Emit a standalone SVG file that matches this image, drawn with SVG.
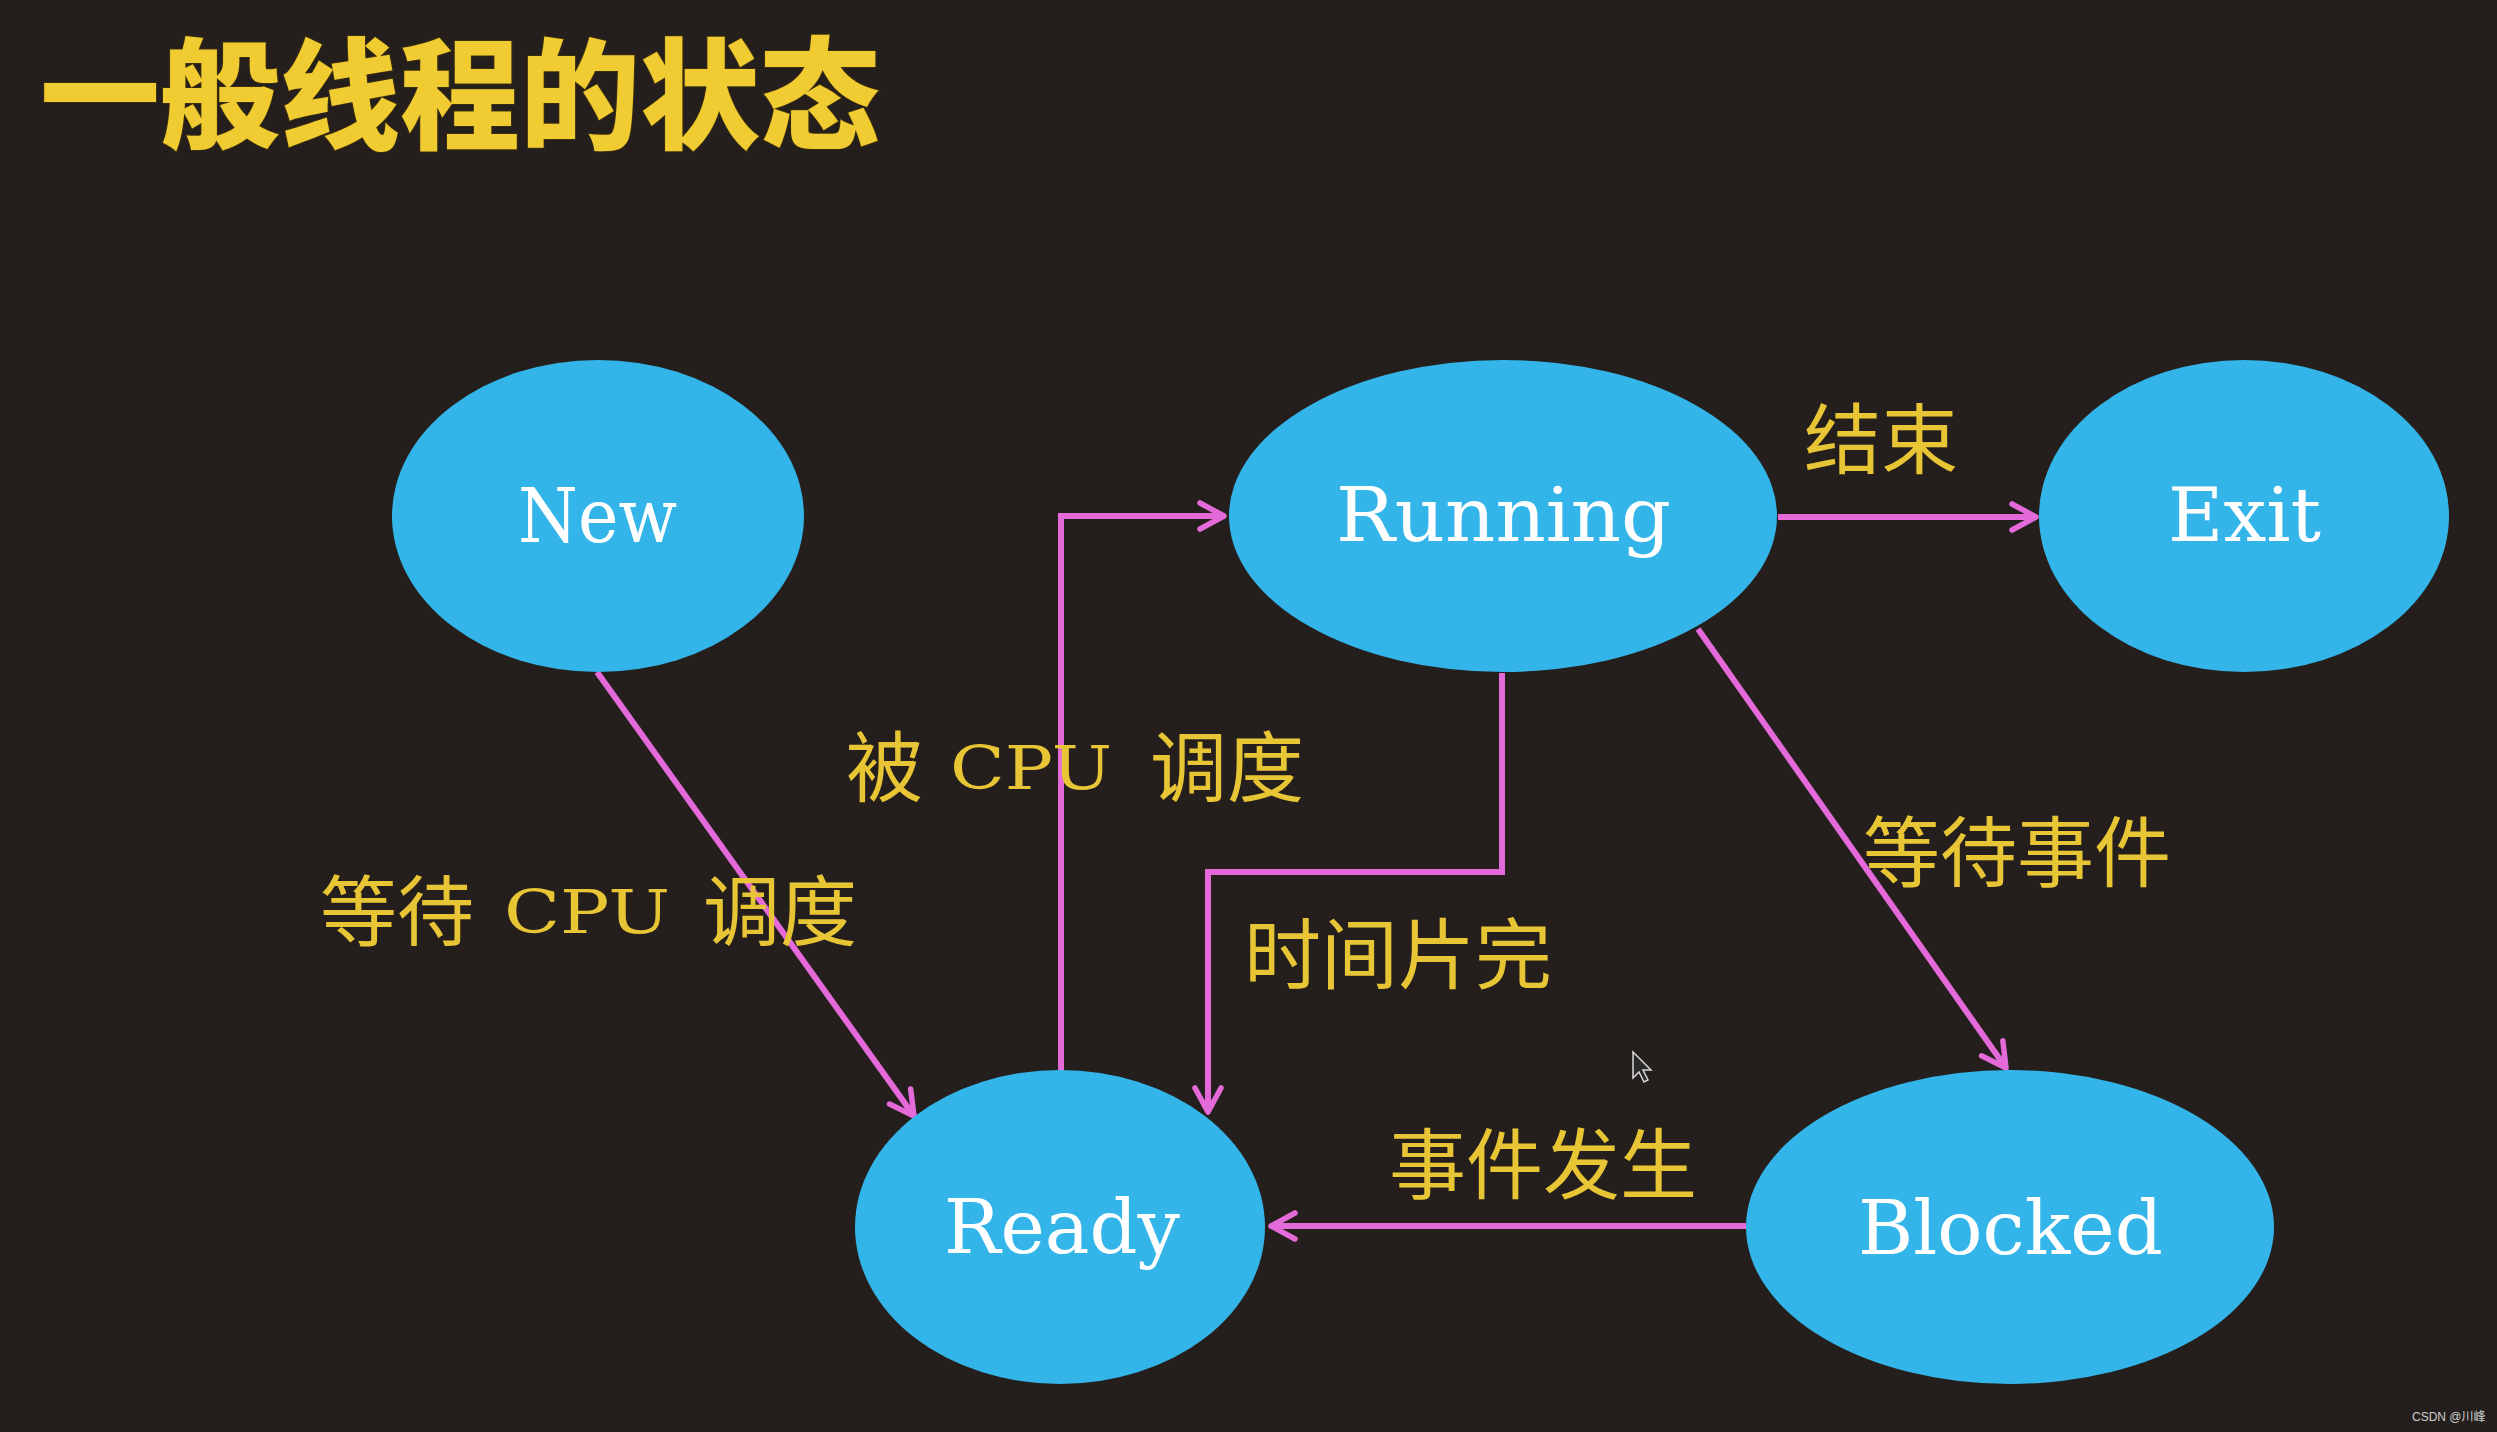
<svg xmlns="http://www.w3.org/2000/svg" width="2497" height="1432" viewBox="0 0 2497 1432">
<style>
.bg{fill:#241f1c}
.node ellipse{fill:#33b5e9}
.node text{fill:#ffffff;font-family:"DejaVu Serif","Liberation Serif",serif;font-size:74px}
.lbl{fill:#e8c535;font-family:"Noto Sans CJK SC","Noto Sans CJK JP",sans-serif;font-size:77px}
.lat{font-family:"DejaVu Serif","Liberation Serif",serif;font-size:60px}
.conn path{fill:none;stroke:#e46ad9;stroke-width:6;stroke-linejoin:miter}
.title{fill:#f1cb32;font-family:"Noto Sans CJK SC","Noto Sans CJK JP",sans-serif;font-weight:900;font-size:120px}
</style>
<defs>
<marker id="arr" viewBox="0 0 32 32" refX="29" refY="16" markerWidth="32" markerHeight="32" orient="auto" markerUnits="userSpaceOnUse">
<path d="M5,3 L29,16 L5,29" fill="none" stroke="#e46ad9" stroke-width="5.5" stroke-linecap="round" stroke-linejoin="round"/>
</marker>
</defs>
<rect class="bg" x="0" y="0" width="2497" height="1432"/>
<text x="40" y="140" class="title" textLength="840" lengthAdjust="spacingAndGlyphs" stroke="#3a2e10" stroke-width="2" paint-order="stroke">一般线程的状态</text>

<g class="conn">
<path id="e-new-ready" d="M597,672 L914,1116" marker-end="url(#arr)"/>
<path id="e-ready-running" d="M1061,1072 L1061,516 L1224,516" marker-end="url(#arr)"/>
<path id="e-running-ready" d="M1502,673 L1502,872 L1208,872 L1208,1112" marker-end="url(#arr)"/>
<path id="e-running-blocked" d="M1698,629 L2006,1068" marker-end="url(#arr)"/>
<path id="e-blocked-ready" d="M1746,1226 L1271,1226" marker-end="url(#arr)"/>
<path id="e-running-exit" d="M1778,517 L2036,517" marker-end="url(#arr)"/>
</g>

<g id="node-new" class="node"><ellipse cx="598" cy="516" rx="206" ry="156"/><text x="518" y="542" textLength="159" lengthAdjust="spacingAndGlyphs">New</text></g>
<g id="node-running" class="node"><ellipse cx="1503" cy="516" rx="274" ry="156"/><text x="1336" y="541" textLength="335" lengthAdjust="spacingAndGlyphs">Running</text></g>
<g id="node-exit" class="node"><ellipse cx="2244" cy="516" rx="205" ry="156"/><text x="2168" y="541" textLength="153" lengthAdjust="spacingAndGlyphs">Exit</text></g>
<g id="node-ready" class="node"><ellipse cx="1060" cy="1227" rx="205" ry="157"/><text x="944" y="1253" textLength="236" lengthAdjust="spacingAndGlyphs">Ready</text></g>
<g id="node-blocked" class="node"><ellipse cx="2010" cy="1227" rx="264" ry="157"/><text x="1858" y="1254" textLength="305" lengthAdjust="spacingAndGlyphs">Blocked</text></g>

<g id="labels">
<text class="lbl" x="1804" y="468">结束</text>
<text class="lbl" y="796"><tspan x="846">被 </tspan><tspan x="950" y="789" class="lat"><tspan textLength="162" lengthAdjust="spacingAndGlyphs">CPU</tspan> </tspan><tspan x="1150" y="796">调度</tspan></text>
<text class="lbl" y="940"><tspan x="320">等待 </tspan><tspan x="504" y="933" class="lat"><tspan textLength="166" lengthAdjust="spacingAndGlyphs">CPU</tspan> </tspan><tspan x="703" y="940">调度</tspan></text>
<text class="lbl" x="1244" y="983">时间片完</text>
<text class="lbl" x="1863" y="881">等待事件</text>
<text class="lbl" x="1389" y="1193">事件发生</text>
</g>

<path id="cursor" d="M1633,1052 L1633,1078 L1639,1072 L1644,1082 L1648,1080 L1643,1070 L1651,1070 Z" fill="#2a2a2a" stroke="#d8d8d8" stroke-width="1.5"/>
<text x="2412" y="1421" fill="#cfcfcf" font-family="'Liberation Sans','Noto Sans CJK SC',sans-serif" font-size="12">CSDN @川峰</text>
</svg>
